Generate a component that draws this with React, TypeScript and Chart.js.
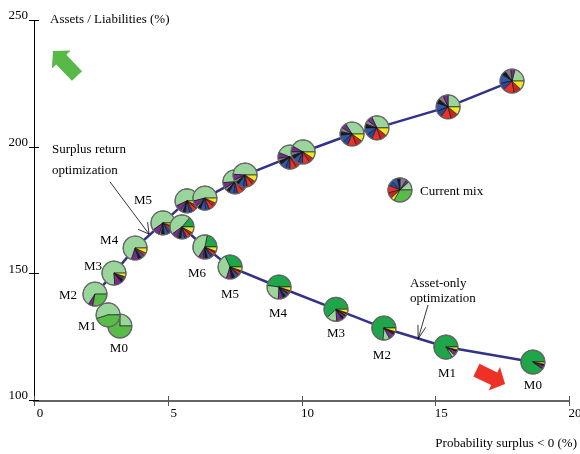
import React, { useEffect, useRef } from 'react';
import { Chart, registerables } from 'chart.js';

Chart.register(...registerables);

// ---------------- data ----------------
const assetClasses = [
  'Liability-matching bonds', 'Long government bonds', 'Credit', 'Hedge funds', 'Private equity',
  'Equity Europe', 'Equity North America', 'Equity Pacific', 'Emerging markets', 'Commodities', 'Cash & short bonds',
];
const assetColors = [
  '#20a64a', '#9ad59b', '#7a2b8e', '#80808c', '#1b1b1b',
  '#3556a6', '#26479a', '#e8322a', '#c92621', '#f1e823', '#59bc4a',
];

// Surplus return optimization frontier
const surplusX = [3.21, 2.77, 2.28, 2.99, 3.78, 4.82, 5.72, 6.39, 7.51, 7.89, 9.57, 10.06, 11.89, 12.82, 15.48, 17.87];
const surplusY = [129.6, 134.0, 142.2, 150.5, 160.4, 170.3, 179.0, 180.1, 186.5, 189.2, 196.3, 198.3, 205.4, 207.8, 216.1, 226.3];
const surplusLabels = ['M0', 'M1', 'M2', 'M3', 'M4', 'M5', '', '', '', '', '', '', '', '', '', ''];
const surplusMixes = [
  [0, 25, 0, 0, 0, 0, 0, 0, 0, 0, 75],
  [0, 55, 0, 0, 0, 0, 0, 0, 0, 0, 45],
  [0, 66, 6, 0, 0, 0, 0, 0, 0, 0, 28],
  [0, 76, 10, 0, 4, 3, 0, 2, 0, 5, 0],
  [0, 70, 10, 0, 4, 5, 0, 4, 0, 7, 0],
  [0, 60, 10, 3, 4, 6, 4, 5, 3, 5, 0],
  [0, 57, 9, 3, 4, 6, 4, 6, 4, 7, 0],
  [0, 54, 8, 3, 4, 7, 5, 7, 5, 7, 0],
  [0, 51, 8, 4, 4, 7, 5, 8, 5, 8, 0],
  [0, 49, 8, 4, 4, 8, 5, 8, 5, 9, 0],
  [0, 44, 8, 4, 5, 8, 6, 9, 7, 9, 0],
  [0, 42, 8, 5, 5, 8, 6, 10, 7, 9, 0],
  [0, 34, 7, 6, 5, 10, 7, 12, 9, 10, 0],
  [0, 32, 7, 6, 5, 10, 8, 12, 9, 11, 0],
  [0, 25, 7, 7, 6, 11, 9, 14, 10, 11, 0],
  [0, 21, 6, 8, 6, 12, 10, 15, 10, 12, 0],
];

// Asset-only optimization frontier
const assetOnlyX = [5.53, 6.39, 7.33, 9.16, 11.29, 13.08, 15.4, 18.65];
const assetOnlyY = [168.7, 160.8, 152.9, 145.0, 136.2, 128.8, 121.3, 115.4];
const assetOnlyLabels = ['', 'M6', 'M5', 'M4', 'M3', 'M2', 'M1', 'M0'];
const assetOnlyMixes = [
  [14, 46, 8, 2, 4, 5, 3, 6, 4, 8, 0],
  [22, 44, 7, 2, 4, 5, 3, 5, 2, 6, 0],
  [32, 38, 7, 1, 4, 5, 2, 4, 2, 5, 0],
  [48, 26, 7, 1, 3, 4, 2, 3, 1, 5, 0],
  [62, 14, 8, 0, 3, 3, 1, 3, 1, 5, 0],
  [74, 9, 8, 0, 2, 1, 0, 1, 0, 5, 0],
  [84, 4, 6, 0, 2, 0, 0, 0, 0, 4, 0],
  [90, 1, 4, 0, 2, 0, 0, 0, 0, 3, 0],
];

// Current mix
const currentX = [13.68];
const currentY = [183.3];
const currentMixes = [[0, 12, 4, 9, 4, 8, 7, 10, 8, 5, 33]];

// Axes
const xTickValues = [0, 5, 10, 15, 20];
const xTickLabels = ['0', '5', '10', '15', '20'];
const yTickValues = [100, 150, 200, 250];
const yTickLabels = ['100', '150', '200', '250'];
const xTitle = 'Probability surplus < 0 (%)';
const yTitle = 'Assets / Liabilities (%)';

// Annotations (anchored in data units)
const noteTexts = ['Surplus return', 'optimization', 'Asset-only', 'optimization', 'Current mix'];
const noteX = [0.67, 0.67, 14.06, 14.06, 14.43];
const noteY = [199.1, 191.0, 146.2, 140.5, 182.5];
const pointerFromX = [2.84, 14.73];
const pointerFromY = [186.5, 137.9];
const pointerToX = [4.3, 14.36];
const pointerToY = [165.9, 124.5];
const blockArrowTailX = [1.607, 16.54];
const blockArrowTailY = [228.3, 112.2];
const blockArrowTipX = [0.71, 17.61];
const blockArrowTipY = [238.2, 106.7];

// ---------------- styles ----------------
const SERIF = '"Liberation Serif", "Times New Roman", Times, serif';
const LINE_COLOR = '#33318a';
const PIE_R = 12;
const surplusLabelOffsets = [[-1, 23], [-21, 12], [-27, 1], [-21, -6], [-26, -7], [-20, -22]];
const assetOnlyLabelOffsets = [[0, 0], [-8, 27], [0, 28], [-1, 27], [0, 24], [-2, 28], [1, 27], [0, 24]];
const pointerHead = [{ len: 12, ang: 30 }, { len: 14, ang: 17 }];
const blockArrowColors = ['#58b848', '#ee3126'];

function drawPie(ctx: CanvasRenderingContext2D, x: number, y: number, r: number, mix: number[]) {
  const total = mix.reduce((a, b) => a + b, 0);
  let a = 0;
  ctx.save();
  mix.forEach((w, k) => {
    if (w <= 0) return;
    const a2 = a - (w / total) * Math.PI * 2;
    ctx.beginPath();
    ctx.moveTo(x, y);
    ctx.arc(x, y, r, a, a2, true);
    ctx.closePath();
    ctx.fillStyle = assetColors[k];
    ctx.fill();
    ctx.strokeStyle = '#111';
    ctx.lineWidth = 0.6;
    ctx.stroke();
    a = a2;
  });
  ctx.beginPath();
  ctx.arc(x, y, r, 0, Math.PI * 2);
  ctx.strokeStyle = '#6a6a6a';
  ctx.lineWidth = 1.2;
  ctx.stroke();
  ctx.restore();
}

const piePlugin = {
  id: 'piePoints',
  afterDatasetsDraw(chart: any) {
    const ctx: CanvasRenderingContext2D = chart.ctx;
    const mixes = [surplusMixes, assetOnlyMixes, currentMixes];
    chart.data.datasets.forEach((_ds: any, di: number) => {
      const meta = chart.getDatasetMeta(di);
      meta.data.forEach((pt: any, i: number) => drawPie(ctx, pt.x, pt.y, PIE_R, mixes[di][i]));
    });

    // point labels
    ctx.save();
    ctx.font = `13px ${SERIF}`;
    ctx.fillStyle = '#000';
    ctx.textAlign = 'center';
    ctx.textBaseline = 'middle';
    const m0 = chart.getDatasetMeta(0);
    surplusLabels.forEach((lab, i) => {
      if (!lab) return;
      const o = surplusLabelOffsets[i];
      ctx.fillText(lab, m0.data[i].x + o[0], m0.data[i].y + o[1]);
    });
    const m1 = chart.getDatasetMeta(1);
    assetOnlyLabels.forEach((lab, i) => {
      if (!lab) return;
      const o = assetOnlyLabelOffsets[i];
      ctx.fillText(lab, m1.data[i].x + o[0], m1.data[i].y + o[1]);
    });
    ctx.restore();
  },
  afterDraw(chart: any) {
    const ctx: CanvasRenderingContext2D = chart.ctx;
    const xs = chart.scales.x;
    const ys = chart.scales.y;
    const area = chart.chartArea;
    ctx.save();

    // tick marks
    ctx.strokeStyle = '#555';
    ctx.lineWidth = 1;
    xTickValues.forEach((v) => {
      const px = Math.round(xs.getPixelForValue(v)) + 0.5;
      ctx.beginPath();
      ctx.moveTo(px, area.bottom - 5);
      ctx.lineTo(px, area.bottom + 5);
      ctx.stroke();
    });
    ctx.strokeStyle = '#000';
    yTickValues.forEach((v) => {
      const py = Math.round(ys.getPixelForValue(v)) - 0.5;
      ctx.beginPath();
      ctx.moveTo(area.left - 5, py);
      ctx.lineTo(area.left + 5, py);
      ctx.stroke();
    });

    // axis titles
    ctx.fillStyle = '#000';
    ctx.font = `13px ${SERIF}`;
    ctx.textBaseline = 'middle';
    ctx.textAlign = 'left';
    ctx.fillText(yTitle, area.left + 16, area.top - 1);
    ctx.textAlign = 'right';
    ctx.fillText(xTitle, area.right + 8, area.bottom + 43);

    // annotation texts
    ctx.textAlign = 'left';
    noteTexts.forEach((t, i) => {
      ctx.fillText(t, xs.getPixelForValue(noteX[i]), ys.getPixelForValue(noteY[i]));
    });

    // pointer arrows
    ctx.strokeStyle = '#000';
    ctx.lineWidth = 0.8;
    pointerFromX.forEach((_, i) => {
      const x1 = xs.getPixelForValue(pointerFromX[i]);
      const y1 = ys.getPixelForValue(pointerFromY[i]);
      const x2 = xs.getPixelForValue(pointerToX[i]);
      const y2 = ys.getPixelForValue(pointerToY[i]);
      const back = Math.atan2(y1 - y2, x1 - x2);
      const h = pointerHead[i];
      const da = (h.ang * Math.PI) / 180;
      ctx.beginPath();
      ctx.moveTo(x1, y1);
      ctx.lineTo(x2, y2);
      ctx.moveTo(x2 + Math.cos(back + da) * h.len, y2 + Math.sin(back + da) * h.len);
      ctx.lineTo(x2, y2);
      ctx.lineTo(x2 + Math.cos(back - da) * h.len, y2 + Math.sin(back - da) * h.len);
      ctx.stroke();
    });

    // block arrows
    blockArrowTailX.forEach((_, i) => {
      const tx = xs.getPixelForValue(blockArrowTailX[i]);
      const ty = ys.getPixelForValue(blockArrowTailY[i]);
      const px = xs.getPixelForValue(blockArrowTipX[i]);
      const py = ys.getPixelForValue(blockArrowTipY[i]);
      const L = Math.hypot(px - tx, py - ty);
      const dx = (px - tx) / L;
      const dy = (py - ty) / L;
      const nx = -dy;
      const ny = dx;
      const headLen = 12;
      const hw = 13;
      const sw = 7;
      const bx = px - dx * headLen;
      const by = py - dy * headLen;
      ctx.beginPath();
      ctx.moveTo(tx + nx * sw, ty + ny * sw);
      ctx.lineTo(bx + nx * sw, by + ny * sw);
      ctx.lineTo(bx + nx * hw, by + ny * hw);
      ctx.lineTo(px, py);
      ctx.lineTo(bx - nx * hw, by - ny * hw);
      ctx.lineTo(bx - nx * sw, by - ny * sw);
      ctx.lineTo(tx - nx * sw, ty - ny * sw);
      ctx.closePath();
      ctx.fillStyle = blockArrowColors[i];
      ctx.fill();
    });
    ctx.restore();
  },
};

export default function App() {
  const canvasRef = useRef<HTMLCanvasElement | null>(null);

  useEffect(() => {
    const canvas = canvasRef.current;
    if (!canvas) return;
    Chart.defaults.font.family = SERIF;
    const chart = new Chart(canvas, {
      type: 'scatter',
      data: {
        datasets: [
          {
            label: 'Surplus return optimization',
            data: surplusX.map((x, i) => ({ x, y: surplusY[i] })),
            showLine: true,
            borderColor: LINE_COLOR,
            borderWidth: 2.5,
            pointRadius: 0,
            pointHoverRadius: 0,
          },
          {
            label: 'Asset-only optimization',
            data: assetOnlyX.map((x, i) => ({ x, y: assetOnlyY[i] })),
            showLine: true,
            borderColor: LINE_COLOR,
            borderWidth: 2.5,
            pointRadius: 0,
            pointHoverRadius: 0,
          },
          {
            label: 'Current mix',
            data: currentX.map((x, i) => ({ x, y: currentY[i] })),
            showLine: false,
            pointRadius: 0,
            pointHoverRadius: 0,
          },
        ],
      },
      options: {
        animation: false,
        responsive: false,
        maintainAspectRatio: false,
        events: [],
        layout: { padding: { top: 21, right: 11, left: 0, bottom: 0 } },
        plugins: { legend: { display: false }, tooltip: { enabled: false } },
        scales: {
          x: {
            type: 'linear',
            min: xTickValues[0],
            max: xTickValues[xTickValues.length - 1],
            afterBuildTicks: (s: any) => {
              s.ticks = xTickValues.map((v) => ({ value: v }));
            },
            afterFit: (s: any) => {
              s.height = 53;
              s.paddingLeft = 0;
              s.paddingRight = 0;
            },
            grid: { display: false, drawTicks: false },
            border: { display: true, color: '#666', width: 2 },
            ticks: {
              color: '#000',
              font: { size: 13, family: SERIF },
              padding: 5,
              labelOffset: 6,
              maxRotation: 0,
              autoSkip: false,
              callback: (v: any) => xTickLabels[xTickValues.indexOf(Number(v))] ?? '',
            },
          },
          y: {
            type: 'linear',
            min: yTickValues[0],
            max: yTickValues[yTickValues.length - 1],
            afterBuildTicks: (s: any) => {
              s.ticks = yTickValues.map((v) => ({ value: v }));
            },
            afterFit: (s: any) => {
              s.width = 34;
              s.paddingTop = 0;
              s.paddingBottom = 0;
            },
            grid: { display: false, drawTicks: false },
            border: { display: true, color: '#000', width: 1 },
            ticks: {
              color: '#000',
              font: { size: 13, family: SERIF },
              padding: 6,
              labelOffset: -5,
              autoSkip: false,
              callback: (v: any) => yTickLabels[yTickValues.indexOf(Number(v))] ?? '',
            },
          },
        },
      },
      plugins: [piePlugin],
    } as any);
    return () => chart.destroy();
  }, []);

  return (
    <div style={{ position: 'absolute', left: 0, top: 0, width: 580, height: 454, background: '#fff' }}>
      <canvas ref={canvasRef} width={580} height={454} aria-label={assetClasses.join(', ')} />
    </div>
  );
}
